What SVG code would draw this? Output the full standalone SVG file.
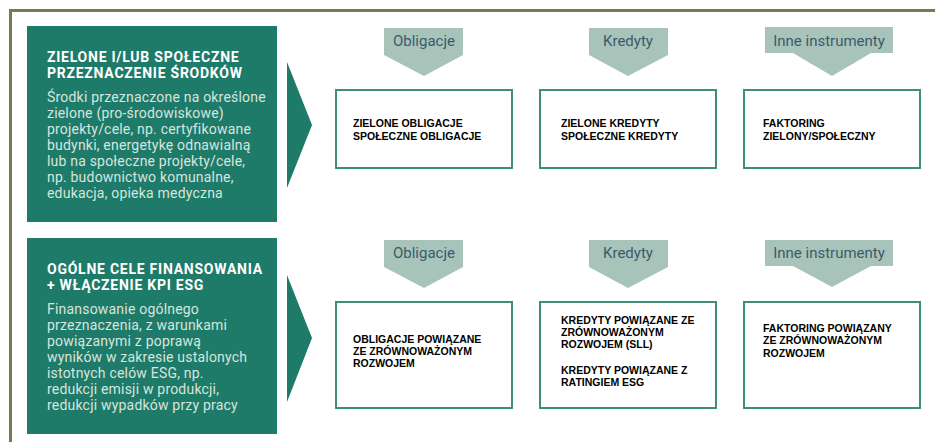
<svg xmlns="http://www.w3.org/2000/svg" width="935" height="442" viewBox="0 0 935 442">
<style>
.frame{fill:none;stroke:#6f7f55;stroke-width:3}
.teal{fill:#1f7b69}
.arrow{fill:#1f7b69}
.tag{fill:#a8c4ba}
.tagtxt{font-family:Roboto,"Noto Sans",sans-serif;font-size:15px;fill:#3b5a6c;text-anchor:middle}
.title{font-family:Roboto,"Noto Sans",sans-serif;font-size:14px;font-weight:bold;fill:#ffffff;letter-spacing:0.75px}
.body{font-family:Roboto,"Noto Sans",sans-serif;font-size:14px;fill:#d6e5de;letter-spacing:0.2px}
.box{fill:#ffffff;stroke:#3d8f7c;stroke-width:2}
.btxt{font-family:"Liberation Sans",Arial,sans-serif;font-size:10.5px;font-weight:bold;fill:#000000}
</style>
<rect width="935" height="442" fill="#ffffff"/>
<path class="frame" d="M10.5,442 V10.5 H935"/>

<g id="section1">
<rect class="teal" x="27" y="26" width="250" height="196"/>
<text class="title" x="47" y="62">ZIELONE I/LUB SPOŁECZNE</text>
<text class="title" x="47" y="78">PRZEZNACZENIE ŚRODKÓW</text>
<text class="body" x="47" y="102">Środki przeznaczone na określone</text>
<text class="body" x="47" y="118">zielone (pro-środowiskowe)</text>
<text class="body" x="47" y="134">projekty/cele, np. certyfikowane</text>
<text class="body" x="47" y="150">budynki, energetykę odnawialną</text>
<text class="body" x="47" y="166">lub na społeczne projekty/cele,</text>
<text class="body" x="47" y="182">np. budownictwo komunalne,</text>
<text class="body" x="47" y="198">edukacja, opieka medyczna</text>
</g>

<g id="section2">
<rect class="teal" x="27" y="238" width="250" height="196"/>
<text class="title" x="47" y="274">OGÓLNE CELE FINANSOWANIA</text>
<text class="title" x="47" y="290">+ WŁĄCZENIE KPI ESG</text>
<text class="body" x="47" y="314">Finansowanie ogólnego</text>
<text class="body" x="47" y="330">przeznaczenia, z warunkami</text>
<text class="body" x="47" y="346">powiązanymi z poprawą</text>
<text class="body" x="47" y="362">wyników w zakresie ustalonych</text>
<text class="body" x="47" y="378">istotnych celów ESG, np.</text>
<text class="body" x="47" y="394">redukcji emisji w produkcji,</text>
<text class="body" x="47" y="410">redukcji wypadków przy pracy</text>
</g>

<g id="connectors">
<polygon class="arrow" points="287,62 312,125 287,188"/>
<polygon class="arrow" points="287,275 312,338 287,402"/>
</g>

<g id="tag-obligacje-1">
<polygon class="tag" points="384,28 463,28 463,55 424,76 384,55"/>
<text class="tagtxt" x="424" y="46">Obligacje</text>
</g>
<g id="tag-kredyty-1">
<polygon class="tag" points="589,28 668,28 668,55 628,76 589,55"/>
<text class="tagtxt" x="628" y="46">Kredyty</text>
</g>
<g id="tag-inne-1">
<polygon class="tag" points="765,27 893,27 893,53 871,53 832,76 793,53 765,53"/>
<text class="tagtxt" x="829" y="46">Inne instrumenty</text>
</g>

<g id="box-obligacje-1">
<rect class="box" x="336" y="90" width="176" height="78"/>
<text class="btxt" x="353" y="127">ZIELONE OBLIGACJE</text>
<text class="btxt" x="353" y="140">SPOŁECZNE OBLIGACJE</text>
</g>
<g id="box-kredyty-1">
<rect class="box" x="540" y="90" width="176" height="78"/>
<text class="btxt" x="561" y="127">ZIELONE KREDYTY</text>
<text class="btxt" x="561" y="140">SPOŁECZNE KREDYTY</text>
</g>
<g id="box-inne-1">
<rect class="box" x="744" y="90" width="176" height="78"/>
<text class="btxt" x="763" y="127">FAKTORING</text>
<text class="btxt" x="763" y="140">ZIELONY/SPOŁECZNY</text>
</g>

<g id="tag-obligacje-2">
<polygon class="tag" points="384,240 463,240 463,267 424,288 384,267"/>
<text class="tagtxt" x="424" y="258">Obligacje</text>
</g>
<g id="tag-kredyty-2">
<polygon class="tag" points="589,240 668,240 668,267 628,288 589,267"/>
<text class="tagtxt" x="628" y="258">Kredyty</text>
</g>
<g id="tag-inne-2">
<polygon class="tag" points="765,240 893,240 893,266 871,266 832,287 793,266 765,266"/>
<text class="tagtxt" x="829" y="258">Inne instrumenty</text>
</g>

<g id="box-obligacje-2">
<rect class="box" x="336" y="302" width="176" height="106"/>
<text class="btxt" x="353" y="343">OBLIGACJE POWIĄZANE</text>
<text class="btxt" x="353" y="355">ZE ZRÓWNOWAŻONYM</text>
<text class="btxt" x="353" y="367">ROZWOJEM</text>
</g>
<g id="box-kredyty-2">
<rect class="box" x="540" y="302" width="176" height="106"/>
<text class="btxt" x="561" y="324">KREDYTY POWIĄZANE ZE</text>
<text class="btxt" x="561" y="336">ZRÓWNOWAŻONYM</text>
<text class="btxt" x="561" y="348">ROZWOJEM (SLL)</text>
<text class="btxt" x="561" y="374">KREDYTY POWIĄZANE Z</text>
<text class="btxt" x="561" y="386">RATINGIEM ESG</text>
</g>
<g id="box-inne-2">
<rect class="box" x="744" y="302" width="176" height="106"/>
<text class="btxt" x="763" y="332">FAKTORING POWIĄZANY</text>
<text class="btxt" x="763" y="344">ZE ZRÓWNOWAŻONYM</text>
<text class="btxt" x="763" y="357">ROZWOJEM</text>
</g>
</svg>
